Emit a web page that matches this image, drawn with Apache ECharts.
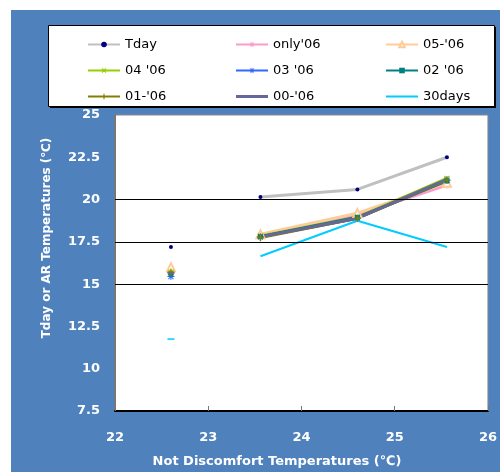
<!DOCTYPE html>
<html><head><meta charset="utf-8">
<script src="https://cdn.jsdelivr.net/npm/echarts@6/dist/echarts.min.js"></script>
<style>html,body{margin:0;padding:0;background:#fff}#c{width:500px;height:472px}</style>
</head><body><div id="c"></div>
<script>
// ---- data ----
const xValues = [22.6, 23.56, 24.6, 25.56];
const seriesNames = ["Tday", "only'06", "05-'06", "04 '06", "03 '06", "02 '06", "01-'06", "00-'06", "30days"];
const tday   = [17.2, 20.15, 20.6, 22.5];
const only06 = [15.85, 17.9, 19.1, 20.85];
const y0506  = [16.0, 17.95, 19.2, 21.0];
const y0406  = [15.7, 17.85, 18.95, 21.25];
const y0306  = [15.45, 17.8, 18.9, 21.15];
const y0206  = [15.6, 17.8, 18.95, 21.1];
const y0106  = [15.7, 17.75, 18.9, 21.15];
const y0006  = [15.65, 17.8, 18.9, 21.2];
const days30 = [11.75, 16.65, 18.75, 17.2];
const xTicks = [22, 23, 24, 25, 26];
const yTicks = [7.5, 10, 12.5, 15, 17.5, 20, 22.5, 25];
const gridLineValues = [15, 17.5, 20];

const FONT = 'DejaVu Sans';
const BLUE = '#4F81BD';

// first point is isolated (gap after it)
function build(vals){
  const d = [[xValues[0], vals[0]], '-'];
  for (let i = 1; i < xValues.length; i++) d.push([xValues[i], vals[i]]);
  return d;
}

const PLUS = 'path://M4,0H6V4H10V6H6V10H4V6H0V4H4Z';
const STAR = 'path://M4.3,0H5.7V3.3L8.1,0.9L9.1,1.9L6.7,4.3H10V5.7H6.7L9.1,8.1L8.1,9.1L5.7,6.7V10H4.3V6.7L1.9,9.1L0.9,8.1L3.3,5.7H0V4.3H3.3L0.9,1.9L1.9,0.9L4.3,3.3Z';

function ser(name, vals, lineColor, symColor, symbol, symSize, width, extra){
  return Object.assign({
    name, type:'line', data: build(vals), symbol, symbolSize: symSize,
    showSymbol: true, connectNulls:false,
    lineStyle:{color:lineColor, width: width},
    itemStyle:{color:symColor},
    emphasis:{disabled:true}, animation:false, z: 3
  }, extra||{});
}
// small dash drawn at the isolated first point of a marker-less line
function dash(name, vals, color){
  return {name, type:'scatter', data:[[xValues[0], vals[0]]], symbol:'rect', symbolSize:[7,2],
    itemStyle:{color}, emphasis:{disabled:true}, animation:false, z:4};
}

const series = [
  ser(seriesNames[0], tday, '#C0C0C0', '#000080', 'circle', 4, 3),
  ser(seriesNames[1], only06, '#FF99CC', '#FF99CC', STAR, 7, 3),
  ser(seriesNames[2], y0506, '#FFCC99', '#FFCC99', 'emptyTriangle', 8, 3, {itemStyle:{color:'#FFCC99', borderColor:'#FFCC99', borderWidth:1}}),
  ser(seriesNames[3], y0406, '#99CC00', '#99CC00', PLUS, 7, 3, {symbolRotate:45}),
  ser(seriesNames[4], y0306, '#3366FF', '#3366FF', STAR, 7, 3),
  ser(seriesNames[5], y0206, '#008080', '#008080', 'rect', 5, 3),
  ser(seriesNames[6], y0106, '#808000', '#808000', PLUS, 7, 3),
  ser(seriesNames[7], y0006, '#666699', '#666699', 'none', 0, 3, {
    markLine:{silent:true, symbol:'none', label:{show:false},
      lineStyle:{color:'#000', width:1, type:'solid'},
      data: gridLineValues.map(v => ({yAxis: v}))}, z:3}),
  ser(seriesNames[8], days30, '#00CCFF', '#00CCFF', 'none', 0, 2),
  dash('00-06 first', y0006, '#666699'),
  dash('30days first', days30, '#00CCFF')
];

const LINE3 = 'path://M0,0H32V3H0Z';
const LINE2 = 'path://M0,0H32V2H0Z';
function legendCol(left, items){
  return {
    show:true, orient:'vertical', left, top:33, itemWidth:32, itemHeight:7, itemGap:13,
    textStyle:{fontFamily:FONT, fontSize:13, color:'#000'},
    data: items
  };
}

const chart = echarts.init(document.getElementById('c'), null, {renderer:'canvas'});
chart.setOption({
  animation:false,
  backgroundColor:'#ffffff',
  graphic:[
    {type:'rect', left:11, top:10, shape:{width:489, height:462}, style:{fill:BLUE}, z:-10, silent:true},
    {type:'rect', left:50, top:27, shape:{width:446, height:81}, style:{fill:'#000'}, z:-9, silent:true},
    {type:'rect', left:48, top:25, shape:{width:446, height:81}, style:{fill:'#fff', stroke:'#000', lineWidth:1}, z:-8, silent:true},
    {type:'text', x:277, y:462, style:{text:'Not Discomfort Temperatures (℃)', fill:'#fff', font:'bold 13px "'+FONT+'"', textAlign:'center', textVerticalAlign:'middle'}, z:10},
  ],
  legend:[
    legendCol(82, [seriesNames[0], seriesNames[3], seriesNames[6]]),
    legendCol(230, [seriesNames[1], seriesNames[4], {name:seriesNames[7], icon:LINE3}]),
    legendCol(380, [seriesNames[2], seriesNames[5], {name:seriesNames[8], icon:LINE2}])
  ],
  grid:{left:115, right:11, top:115, bottom:61, show:true, backgroundColor:'#fff', borderColor:'#888', borderWidth:1, containLabel:false},
  xAxis:{
    type:'value', min:22, max:26, interval:1,
    axisLine:{show:true, onZero:false, lineStyle:{color:'#000', width:2}},
    axisTick:{show:true, inside:true, length:5, lineStyle:{color:'#777', width:1}},
    axisLabel:{color:'#fff', fontFamily:FONT, fontSize:13, fontWeight:'bold', margin:20, formatter: v => xTicks.includes(v) ? String(v) : ''},
    splitLine:{show:false}
  },
  yAxis:{
    type:'value', min:7.5, max:25, interval:2.5,
    name:'Tday or AR Temperatures (℃)', nameLocation:'middle', nameGap:62, nameRotate:90,
    nameTextStyle:{color:'#fff', fontFamily:FONT, fontSize:12, fontWeight:'bold', padding:[0,0,0,50]},
    axisLine:{show:true, lineStyle:{color:'#777', width:2}},
    axisTick:{show:false},
    axisLabel:{color:'#fff', fontFamily:FONT, fontSize:13, fontWeight:'bold', margin:15, formatter: v => yTicks.includes(v) ? String(v) : ''},
    splitLine:{show:false}
  },
  series
});
</script></body></html>
